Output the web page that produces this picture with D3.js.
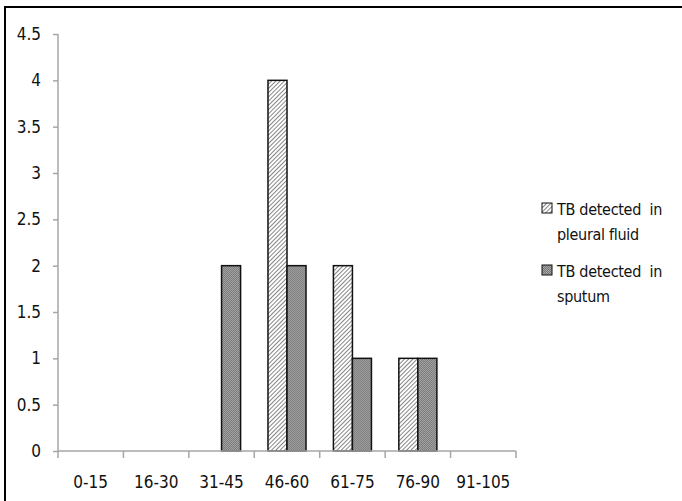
<!DOCTYPE html>
<html>
<head>
<meta charset="utf-8">
<script src="https://cdn.jsdelivr.net/npm/d3@7/dist/d3.min.js"></script>
<style>
  body { margin: 0; background: #fff; }
  text { font-family: "Liberation Sans Narrow", "DejaVu Sans Condensed", sans-serif; fill: #111; }
</style>
</head>
<body>
<div id="main"><svg width="682" height="501"></svg></div>
<script>
// Data
var ageGroups = ["0-15", "16-30", "31-45", "46-60", "61-75", "76-90", "91-105"];
var seriesNames = ["TB detected in pleural fluid", "TB detected in sputum"];
var pleuralFluid = [0, 0, 0, 4, 2, 1, 0];
var sputum = [0, 0, 2, 2, 1, 1, 0];
var yTicks = [0, 0.5, 1, 1.5, 2, 2.5, 3, 3.5, 4, 4.5];
var legendLines = [["TB detected  in", "pleural fluid"], ["TB detected  in", "sputum"]];

var svg = d3.select("#main").select("svg");
var svgWidth = +svg.attr("width");
var svgHeight = +svg.attr("height");

// Frame (only top and left edges visible)
svg.append("path")
    .attr("d", "M5," + svgHeight + "V7H" + svgWidth)
    .attr("fill", "none")
    .attr("stroke", "#000")
    .attr("stroke-width", 2);

// Patterns
var defs = svg.append("defs");
var hatch = defs.append("pattern")
    .attr("id", "hatch")
    .attr("patternUnits", "userSpaceOnUse")
    .attr("width", 3).attr("height", 3)
    .attr("patternTransform", "rotate(45)");
hatch.append("rect").attr("width", 3).attr("height", 3).attr("fill", "#fff");
hatch.append("line")
    .attr("x1", 0).attr("y1", 0).attr("x2", 0).attr("y2", 3)
    .attr("stroke", "#444").attr("stroke-width", 1.3);

var checker = defs.append("pattern")
    .attr("id", "checker")
    .attr("patternUnits", "userSpaceOnUse")
    .attr("width", 2).attr("height", 2);
checker.append("rect").attr("width", 2).attr("height", 2).attr("fill", "#a8a8a8");
checker.append("rect").attr("width", 1).attr("height", 1).attr("fill", "#767676");
checker.append("rect").attr("x", 1).attr("y", 1).attr("width", 1).attr("height", 1).attr("fill", "#767676");

var fills = ["url(#hatch)", "url(#checker)"];

// Plot area
var margin = {top: 34, left: 58};
var width = 458;
var height = 417;
var g = svg.append("g").attr("transform", "translate(" + margin.left + "," + margin.top + ")");

var x0 = d3.scaleBand().domain(ageGroups).range([0, width]).padding(0);
var x1 = d3.scaleBand().domain(seriesNames).range([0, x0.bandwidth()])
    .paddingInner(0).paddingOuter(0.72);
var y = d3.scaleLinear().domain([0, 4.5]).range([height, 0]);

// Bars
var table = ageGroups.map(function(a, i) {
    return {group: a, values: [pleuralFluid[i], sputum[i]]};
});

var groups = g.selectAll(".grp")
    .data(table)
    .enter().append("g")
    .attr("class", "grp")
    .attr("transform", function(d) { return "translate(" + x0(d.group) + ",0)"; });

groups.selectAll("rect")
    .data(function(d) {
        return d.values.map(function(v, k) { return {name: seriesNames[k], value: v, k: k}; })
            .filter(function(e) { return e.value > 0; });
    })
    .enter().append("rect")
    .attr("x", function(d) { return x1(d.name); })
    .attr("y", function(d) { return y(d.value); })
    .attr("width", x1.bandwidth())
    .attr("height", function(d) { return height - y(d.value); })
    .attr("fill", function(d) { return fills[d.k]; })
    .attr("stroke", "#111")
    .attr("stroke-width", 1.5);

// Y axis
var yAxis = g.append("g")
    .call(d3.axisLeft(y).tickValues(yTicks).tickSize(5).tickPadding(12).tickFormat(d3.format("")));
yAxis.select(".domain").attr("stroke", "#a6a6a6").attr("stroke-width", 1.5).attr("d", "M0," + height + "V0");
yAxis.selectAll(".tick line").attr("stroke", "#a6a6a6").attr("stroke-width", 1.5);
yAxis.selectAll(".tick text").attr("font-size", 17);

// X axis: ticks sit at band boundaries
var xAxisG = g.append("g").attr("transform", "translate(0," + height + ")");
xAxisG.append("line")
    .attr("x1", 0).attr("x2", width)
    .attr("stroke", "#a6a6a6").attr("stroke-width", 1.5);
var bounds = ageGroups.map(function(a) { return x0(a); }).concat([width]);
xAxisG.selectAll(".xtick")
    .data(bounds)
    .enter().append("line")
    .attr("class", "xtick")
    .attr("x1", function(d) { return d; }).attr("x2", function(d) { return d; })
    .attr("y1", 0).attr("y2", 7)
    .attr("stroke", "#a6a6a6").attr("stroke-width", 1.5);
xAxisG.selectAll(".xlab")
    .data(ageGroups)
    .enter().append("text")
    .attr("class", "xlab")
    .attr("x", function(d) { return x0(d) + x0.bandwidth() / 2; })
    .attr("y", 37)
    .attr("text-anchor", "middle")
    .attr("font-size", 17)
    .text(function(d) { return d; });

// Legend
var legend = svg.append("g").attr("transform", "translate(542,203)");
var items = legend.selectAll(".item")
    .data(legendLines)
    .enter().append("g")
    .attr("class", "item")
    .attr("transform", function(d, i) { return "translate(0," + (i * 62) + ")"; });
items.append("rect")
    .attr("width", 10).attr("height", 10)
    .attr("fill", function(d, i) { return fills[i]; })
    .attr("stroke", "#111").attr("stroke-width", 1);
items.selectAll("text")
    .data(function(d) { return d; })
    .enter().append("text")
    .attr("x", 15)
    .attr("y", function(d, j) { return 12 + j * 25; })
    .attr("font-size", 16)
    .attr("letter-spacing", -0.3)
    .attr("xml:space", "preserve")
    .text(function(d) { return d; });
</script>
</body>
</html>
